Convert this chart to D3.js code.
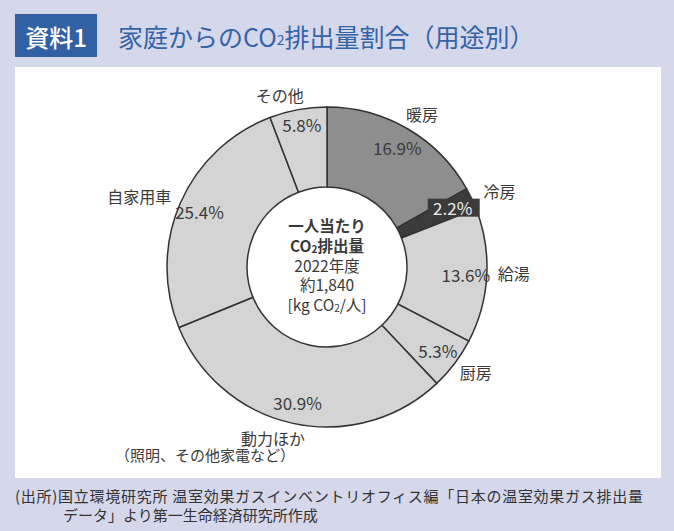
<!DOCTYPE html>
<html>
<head>
<meta charset="utf-8">
<script src="https://cdn.jsdelivr.net/npm/d3@7"></script>
<style>
  body { margin: 0; background: #d5d8ea; }
  svg { display: block; font-family: "Noto Sans CJK JP", "Noto Sans", sans-serif; }
</style>
</head>
<body>
<svg id="chart"></svg>
<script>
var width = 674;
var height = 531;

// data, clockwise from 12 o'clock
var categories = ["暖房", "冷房", "給湯", "厨房", "動力ほか", "自家用車", "その他"];
var shares = [16.9, 2.2, 13.6, 5.3, 30.9, 25.4, 5.8];
var subNote = "（照明、その他家電など）";
var centerLines = ["一人当たり", "CO2排出量", "2022年度", "約1,840", "[kg CO2/人]"];
var sourceLines = [
	"(出所)国立環境研究所 温室効果ガスインベントリオフィス編「日本の温室効果ガス排出量",
	"データ」より第一生命経済研究所作成"
];

var textColor = "#3a3a3a";
var color = d3.scaleOrdinal()
	.domain(categories)
	.range(["#8e8e8e", "#3b3b3b", "#d4d4d4", "#d4d4d4", "#d4d4d4", "#d4d4d4", "#d4d4d4"]);

// small nudges for the outside labels
var labelNudge = {
	"暖房": [2, 6], "冷房": [6, 3], "給湯": [3, -4], "厨房": [2, -6],
	"動力ほか": [-15, -9], "自家用車": [-19, 2], "その他": [-14, 9]
};

var svg = d3.select('#chart').attr('width', width).attr('height', height);

svg.append('rect').attr('width', width).attr('height', height).attr('fill', '#d5d8ea');
svg.append('rect').attr('x', 15).attr('y', 67).attr('width', 646).attr('height', 411).attr('fill', '#fff');

// header
svg.append('rect').attr('x', 15).attr('y', 14).attr('width', 82).attr('height', 43).attr('fill', '#3160a5');
svg.append('text').attr('x', 56).attr('y', 36).attr('text-anchor', 'middle')
	.attr('dominant-baseline', 'central').attr('fill', '#fff')
	.attr('font-size', 24).attr('font-weight', 500).text('資料1');

var title = svg.append('text').attr('x', 118).attr('y', 36)
	.attr('dominant-baseline', 'central').attr('fill', '#3463a8').attr('font-size', 25);
title.append('tspan').text('家庭からのCO');
title.append('tspan').attr('font-size', 14).attr('dy', 3).text('2');
title.append('tspan').attr('dy', -3).text('排出量割合（用途別）');

// donut
var cx = 327, cy = 267;
var g = svg.append('g').attr('transform', 'translate(' + cx + ',' + cy + ')');

var pie = d3.pie().sort(null).value(function(d) { return d.value; });
var arcs = pie(categories.map(function(c, i) { return { name: c, value: shares[i] }; }));

var arc = d3.arc().innerRadius(80).outerRadius(160);
var pctArc = d3.arc().innerRadius(139).outerRadius(139);
var nameArc = d3.arc().innerRadius(184).outerRadius(184);

g.selectAll('path.slice').data(arcs).enter().append('path')
	.attr('class', 'slice')
	.attr('d', arc)
	.attr('fill', function(d) { return color(d.data.name); })
	.attr('stroke', '#333')
	.attr('stroke-width', 1.5);

// percent labels
var pct = g.selectAll('g.pct').data(arcs).enter().append('g')
	.attr('class', 'pct')
	.attr('transform', function(d) {
		var c = pctArc.centroid(d);
		if (d.data.name == 'その他') c[1] -= 6;
		return 'translate(' + c[0] + ',' + c[1] + ')';
	});
pct.filter(function(d) { return d.data.name == '冷房'; }).append('rect')
	.attr('x', -25).attr('y', -9).attr('width', 52).attr('height', 18)
	.attr('fill', color('冷房'));
pct.append('text')
	.attr('text-anchor', 'middle')
	.attr('dominant-baseline', 'central')
	.attr('font-size', 17)
	.attr('fill', function(d) { return d.data.name == '冷房' ? '#eee' : textColor; })
	.text(function(d) { return d.data.value.toFixed(1) + '%'; });

// category labels
var names = g.selectAll('g.name').data(arcs).enter().append('g')
	.attr('class', 'name')
	.attr('transform', function(d) {
		var c = nameArc.centroid(d);
		var n = labelNudge[d.data.name];
		return 'translate(' + (c[0] + n[0]) + ',' + (c[1] + n[1]) + ')';
	});
names.append('text')
	.attr('text-anchor', 'middle')
	.attr('dominant-baseline', 'central')
	.attr('font-size', 16)
	.attr('fill', textColor)
	.text(function(d) { return d.data.name; });
names.filter(function(d) { return d.data.name == '動力ほか'; }).append('text')
	.attr('x', 22).attr('y', 17)
	.attr('text-anchor', 'end')
	.attr('dominant-baseline', 'central')
	.attr('font-size', 15)
	.attr('fill', textColor)
	.text(subNote);

// centre text
var lineY = d3.scalePoint().domain(d3.range(centerLines.length)).range([-42, 37]);
centerLines.forEach(function(line, i) {
	var t = g.append('text')
		.attr('y', lineY(i))
		.attr('text-anchor', 'middle')
		.attr('dominant-baseline', 'central')
		.attr('font-size', 15.5)
		.attr('font-weight', i < 2 ? 700 : 400)
		.attr('fill', textColor);
	var parts = line.split('CO2');
	if (parts.length > 1) {
		t.append('tspan').text(parts[0] + 'CO');
		t.append('tspan').attr('font-size', 10).attr('dy', 3).text('2');
		t.append('tspan').attr('dy', -3).text(parts[1]);
	} else {
		t.text(line);
	}
});

// source
sourceLines.forEach(function(line, i) {
	var t = svg.append('text')
		.attr('x', i == 0 ? 15 : 63)
		.attr('y', 495 + i * 19)
		.attr('dominant-baseline', 'central')
		.attr('font-size', 15)
		.attr('fill', '#333')
		.text(line);
	if (i == 0) t.attr('textLength', 628).attr('lengthAdjust', 'spacing');
});
</script>
</body>
</html>
